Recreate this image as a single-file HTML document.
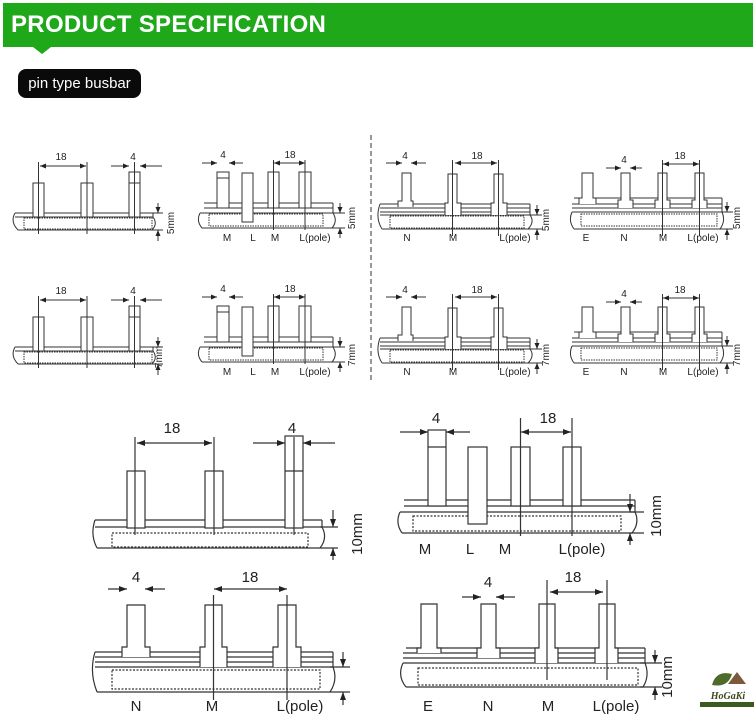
<!DOCTYPE html>
<html><head><meta charset="utf-8"><style>
body{margin:0;background:#fff;width:756px;height:722px;overflow:hidden;position:relative;font-family:"Liberation Sans",sans-serif}
.hdr{position:absolute;left:3px;top:3px;width:750px;height:44px;background:#1fa81a}
.hdr span{position:absolute;left:8px;top:8px;color:#fff;font-weight:bold;font-size:24px;letter-spacing:0.3px}
.tri{position:absolute;left:33px;top:47px;width:0;height:0;border-left:9px solid transparent;border-right:9px solid transparent;border-top:7px solid #1fa81a}
.pill{position:absolute;left:18px;top:69px;width:123px;height:29px;background:#0a0a0a;border-radius:8px;color:#fff;font-size:15px;line-height:29px;text-align:center}
svg{position:absolute;left:0;top:0}
</style></head><body>
<div class="hdr"><span>PRODUCT SPECIFICATION</span></div><div class="tri"></div>
<div class="pill">pin type busbar</div>
<svg width="756" height="722" viewBox="0 0 756 722">
<defs>
<marker id="a" markerWidth="6" markerHeight="6" refX="6" refY="3" orient="auto" markerUnits="userSpaceOnUse"><path d="M0,0.5 L6,3 L0,5.5z" fill="#222"/></marker>
<marker id="b" markerWidth="8" markerHeight="8" refX="8" refY="4" orient="auto" markerUnits="userSpaceOnUse"><path d="M0,1 L8,4 L0,7z" fill="#222"/></marker>
</defs>
<g fill="none" stroke="#333" stroke-width="1" font-size="10" font-family="Liberation Sans,sans-serif">
<line x1="371" y1="135" x2="371" y2="380" stroke-dasharray="5,3"/>
<g id="r1">
<path d="M15,213H153M15,217H153M18,230H152M15,213Q10,222 18,230M153,213V217Q158,224 152,230"/>
<rect x="24" y="218" width="128" height="11" stroke-dasharray="1.5,1"/>
<rect x="33" y="183" width="11" height="34" fill="#fff"/><rect x="81" y="183" width="12" height="34" fill="#fff"/>
<rect x="129" y="172" width="11" height="45" fill="#fff"/><line x1="129" y1="183" x2="140" y2="183"/>
<path d="M38.5,162V234M87,162V234M134.5,162V234"/>
<line x1="60" y1="166" x2="86" y2="166" marker-end="url(#a)"/><line x1="60" y1="166" x2="40" y2="166" marker-end="url(#a)"/>
<line x1="111" y1="166" x2="129" y2="166" marker-end="url(#a)"/><line x1="162" y1="166" x2="140" y2="166" marker-end="url(#a)"/>
<path d="M150,213H163M150,230H163"/><line x1="158" y1="203" x2="158" y2="213" marker-end="url(#a)"/><line x1="158" y1="241" x2="158" y2="230" marker-end="url(#a)"/>
<path d="M204,203H333M204,208H333M200,213H333M202,228H332M200,213Q196,221 202,228M333,203V213Q338,221 332,228"/>
<rect x="209" y="214" width="114" height="12" stroke-dasharray="1.5,1"/>
<rect x="217" y="172" width="12" height="36" fill="#fff"/><line x1="217" y1="178" x2="229" y2="178"/>
<rect x="242" y="173" width="11" height="49" fill="#fff"/>
<rect x="268" y="172" width="11" height="36" fill="#fff"/>
<rect x="299" y="172" width="12" height="36" fill="#fff"/>
<path d="M273.5,160V230M305,160V230"/>
<line x1="202" y1="163" x2="217" y2="163" marker-end="url(#a)"/><line x1="243" y1="163" x2="229" y2="163" marker-end="url(#a)"/>
<line x1="290" y1="163" x2="274" y2="163" marker-end="url(#a)"/><line x1="290" y1="163" x2="305" y2="163" marker-end="url(#a)"/>
<path d="M332,213H345M332,228H345"/><line x1="340" y1="203" x2="340" y2="213" marker-end="url(#a)"/><line x1="340" y1="238" x2="340" y2="228" marker-end="url(#a)"/>
<path d="M380,204H530M380,208H530M380,212H530M380,215H530M382,229H528M380,204Q375,218 382,229M530,204V215Q535,222 528,229"/>
<rect x="390" y="216" width="134" height="12" stroke-dasharray="1.5,1"/>
<path d="M398,207V201H402V173H411V201H413V207M445,215V203H448V174H457V203H461V215M491,215V203H494V174H503V203H507V215" fill="#fff"/>
<path d="M452.5,160V236M498.5,160V236"/>
<line x1="386" y1="163" x2="402" y2="163" marker-end="url(#a)"/><line x1="426" y1="163" x2="411" y2="163" marker-end="url(#a)"/>
<line x1="476" y1="163" x2="455" y2="163" marker-end="url(#a)"/><line x1="476" y1="163" x2="497" y2="163" marker-end="url(#a)"/>
<path d="M528,215H542M528,229H542"/><line x1="537" y1="205" x2="537" y2="215" marker-end="url(#a)"/><line x1="537" y1="240" x2="537" y2="229" marker-end="url(#a)"/>
<path d="M574,198H722M572,204H722M572,208H722M572,212H722M574,229H720M572,212Q568,221 574,229M722,198V212Q726,221 720,229"/>
<rect x="581" y="214" width="136" height="12" stroke-dasharray="1.5,1"/>
<path d="M579,204V198H582V173H593V198H596V204M618,208V200H621V173H630V200H633V208M655,208V200H658V173H667V200H670V208M692,208V200H695V173H704V200H707V208" fill="#fff"/>
<path d="M662.5,160V236M699.5,160V236"/>
<line x1="606" y1="168" x2="621" y2="168" marker-end="url(#a)"/><line x1="642" y1="168" x2="630" y2="168" marker-end="url(#a)"/>
<line x1="680" y1="164" x2="663" y2="164" marker-end="url(#a)"/><line x1="680" y1="164" x2="699" y2="164" marker-end="url(#a)"/>
<path d="M720,212H733M720,229H733"/><line x1="727" y1="202" x2="727" y2="212" marker-end="url(#a)"/><line x1="727" y1="240" x2="727" y2="229" marker-end="url(#a)"/>
</g>
<use href="#r1" transform="translate(0,134)"/>
<g stroke-width="1.2">
<path d="M95,520H322M95,527H322M97,548H320M95,520Q90,535 97,548M322,520V527Q328,538 320,548"/>
<rect x="112" y="533" width="196" height="14" stroke-dasharray="2,1.5"/>
<rect x="127" y="471" width="18" height="57" fill="#fff"/><rect x="205" y="471" width="18" height="57" fill="#fff"/>
<rect x="285" y="436" width="18" height="92" fill="#fff"/><line x1="285" y1="471" x2="303" y2="471"/>
<path d="M135,437V535M214,437V535M294,437V535"/>
<line x1="172" y1="443" x2="137" y2="443" marker-end="url(#b)"/><line x1="172" y1="443" x2="212" y2="443" marker-end="url(#b)"/>
<line x1="253" y1="443" x2="285" y2="443" marker-end="url(#b)"/><line x1="335" y1="443" x2="303" y2="443" marker-end="url(#b)"/>
<path d="M320,527H338M320,548H338"/><line x1="333" y1="510" x2="333" y2="527" marker-end="url(#b)"/><line x1="333" y1="560" x2="333" y2="548" marker-end="url(#b)"/>
<path d="M404,500H635M404,506H635M400,512H635M402,533H632M400,512Q395,523 402,533M635,500V512Q640,523 632,533"/>
<rect x="413" y="516" width="208" height="15" stroke-dasharray="2,1.5"/>
<rect x="428" y="430" width="18" height="76" fill="#fff"/><line x1="428" y1="447" x2="446" y2="447"/>
<rect x="468" y="447" width="19" height="77" fill="#fff"/>
<rect x="511" y="447" width="19" height="59" fill="#fff"/><rect x="563" y="447" width="18" height="59" fill="#fff"/>
<path d="M520.5,418V536M572,418V536"/>
<line x1="400" y1="432" x2="428" y2="432" marker-end="url(#b)"/><line x1="470" y1="432" x2="446" y2="432" marker-end="url(#b)"/>
<line x1="546" y1="432" x2="521" y2="432" marker-end="url(#b)"/><line x1="546" y1="432" x2="571" y2="432" marker-end="url(#b)"/>
<path d="M630,512H644M630,533H644"/><line x1="630" y1="494" x2="630" y2="512" marker-end="url(#b)"/><line x1="630" y1="545" x2="630" y2="533" marker-end="url(#b)"/>
<path d="M95,652H333M95,657H333M95,662H333M95,667H333M97,692H330M95,652Q89,672 97,692M333,652V667Q338,680 330,692"/>
<rect x="112" y="670" width="208" height="19" stroke-dasharray="2,1.5"/>
<path d="M122,657V647H127V605H145V647H150V657M200,667V647H205V605H222V647H227V667M273,667V647H278V605H296V647H301V667" fill="#fff"/>
<path d="M213.5,595V700M287,595V700"/>
<line x1="108" y1="589" x2="127" y2="589" marker-end="url(#b)"/><line x1="165" y1="589" x2="145" y2="589" marker-end="url(#b)"/>
<line x1="250" y1="589" x2="214" y2="589" marker-end="url(#b)"/><line x1="250" y1="589" x2="287" y2="589" marker-end="url(#b)"/>
<path d="M330,667H350M330,692H350"/><line x1="343" y1="652" x2="343" y2="667" marker-end="url(#b)"/><line x1="343" y1="705" x2="343" y2="692" marker-end="url(#b)"/>
<path d="M406,648H645M403,653H645M403,658H645M403,663H645M406,687H643M403,663Q397,676 406,687M645,648V663Q650,676 643,687"/>
<rect x="418" y="668" width="220" height="17" stroke-dasharray="2,1.5"/>
<path d="M417,653V648H421V604H437V648H441V653M477,658V648H481V604H496V648H500V658M535,663V648H539V604H555V648H558V663M595,663V648H599V604H615V648H618V663" fill="#fff"/>
<path d="M547,580V680M607,580V680"/>
<line x1="462" y1="597" x2="481" y2="597" marker-end="url(#b)"/><line x1="515" y1="597" x2="496" y2="597" marker-end="url(#b)"/>
<line x1="575" y1="592" x2="550" y2="592" marker-end="url(#b)"/><line x1="575" y1="592" x2="603" y2="592" marker-end="url(#b)"/>
<path d="M640,663H662M640,687H662"/><line x1="655" y1="650" x2="655" y2="663" marker-end="url(#b)"/><line x1="655" y1="700" x2="655" y2="687" marker-end="url(#b)"/>
</g>
</g>
<g fill="#222" font-family="Liberation Sans,sans-serif" font-size="10" text-anchor="middle">
<g id="t1">
<text x="61" y="160">18</text><text x="133" y="160">4</text>
<text x="223" y="158">4</text><text x="290" y="158">18</text>
<text x="227" y="241">M</text><text x="253" y="241">L</text><text x="275" y="241">M</text><text x="315" y="241">L(pole)</text>
<text x="405" y="159">4</text><text x="477" y="159">18</text>
<text x="407" y="241">N</text><text x="453" y="241">M</text><text x="515" y="241">L(pole)</text>
<text x="624" y="163">4</text><text x="680" y="159">18</text>
<text x="586" y="241">E</text><text x="624" y="241">N</text><text x="663" y="241">M</text><text x="703" y="241">L(pole)</text>
</g>
<use href="#t1" transform="translate(0,134)"/>
<text transform="translate(174,223) rotate(-90)">5mm</text>
<text transform="translate(355,218) rotate(-90)">5mm</text>
<text transform="translate(549,220) rotate(-90)">5mm</text>
<text transform="translate(740,218) rotate(-90)">5mm</text>
<text transform="translate(162,357) rotate(-90)">7mm</text>
<text transform="translate(355,355) rotate(-90)">7mm</text>
<text transform="translate(549,355) rotate(-90)">7mm</text>
<text transform="translate(740,355) rotate(-90)">7mm</text>
<g font-size="15">
<text x="172" y="433">18</text><text x="292" y="433">4</text>
<text x="436" y="423">4</text><text x="548" y="423">18</text>
<text x="425" y="554">M</text><text x="470" y="554">L</text><text x="505" y="554">M</text><text x="582" y="554">L(pole)</text>
<text x="136" y="582">4</text><text x="250" y="582">18</text>
<text x="136" y="711">N</text><text x="212" y="711">M</text><text x="300" y="711">L(pole)</text>
<text x="488" y="587">4</text><text x="573" y="582">18</text>
<text x="428" y="711">E</text><text x="488" y="711">N</text><text x="548" y="711">M</text><text x="616" y="711">L(pole)</text>
<text transform="translate(362,534) rotate(-90)">10mm</text>
<text transform="translate(661,516) rotate(-90)">10mm</text>
<text transform="translate(672,677) rotate(-90)">10mm</text>
</g>
</g>
<g>
<path d="M712,685 Q716,670 732,674 Q728,688 712,685z" fill="#4f6b2a"/>
<path d="M728,684 L737,672 L746,684z" fill="#7b5a3a"/>
<text x="728" y="699" font-size="10" font-weight="bold" font-style="italic" fill="#3a4a1a" text-anchor="middle" font-family="Liberation Serif,serif">HoGaKi</text>
<rect x="700" y="702" width="54" height="5" fill="#3d5a1e"/>
</g>
</svg>
</body></html>
